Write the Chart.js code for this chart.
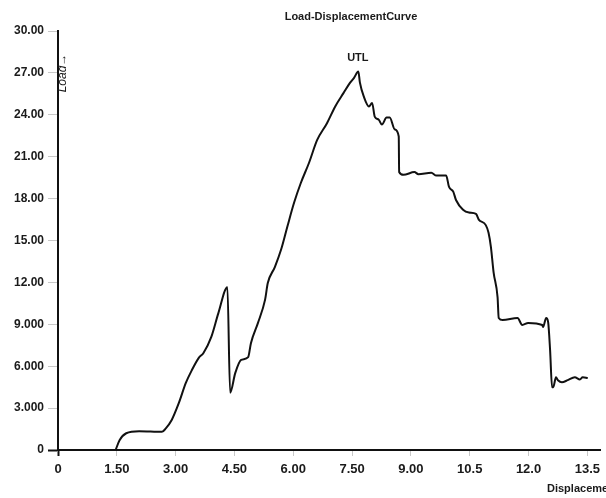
<!DOCTYPE html>
<html>
<head>
<meta charset="utf-8">
<script src="https://cdn.jsdelivr.net/npm/chart.js@4.4.1/dist/chart.umd.min.js"></script>
<style>
  html, body { margin: 0; padding: 0; background: #fff; }
  #wrap { width: 606px; height: 498px; }
</style>
</head>
<body>
<div id="wrap"><canvas id="loadChart" width="606" height="498"></canvas></div>
<script>
// values
const displacement = [
  1.47, 1.57, 1.74, 2.07, 2.65, 2.75, 2.90, 3.08, 3.26, 3.41, 3.59, 3.71, 3.91, 4.09, 4.32,
  4.39, 4.52, 4.67, 4.85, 4.92, 5.10, 5.28, 5.35, 5.53, 5.69, 5.85, 6.02, 6.19, 6.40, 6.61,
  6.86, 7.07, 7.28, 7.45, 7.55, 7.66, 7.70, 7.80, 7.93, 8.01, 8.08, 8.18, 8.26, 8.38, 8.46,
  8.59, 8.69, 8.70, 8.81, 9.09, 9.19, 9.52, 9.65, 9.90, 9.97, 10.08, 10.15, 10.33, 10.48, 10.66,
  10.73, 10.91, 10.98, 11.04, 11.11, 11.21, 11.24, 11.34, 11.72, 11.84, 11.99, 12.35, 12.37, 12.45, 12.50,
  12.55, 12.60, 12.63, 12.70, 12.75, 12.85, 13.00, 13.18, 13.31, 13.38, 13.51
];
const load = [
  0, 0.7, 1.2, 1.35, 1.3, 1.55, 2.15, 3.35, 4.8, 5.7, 6.6, 6.95, 8.1, 9.8, 11.65,
  4.1, 5.5, 6.45, 6.65, 7.65, 9.1, 10.75, 11.95, 13.1, 14.35, 16.0, 17.7, 19.1, 20.55, 22.2,
  23.4, 24.6, 25.55, 26.3, 26.65, 27.1, 26.3, 25.3, 24.6, 24.85, 23.85, 23.65, 23.3, 23.8, 23.8,
  22.95, 22.45, 19.9, 19.7, 19.9, 19.75, 19.85, 19.65, 19.65, 18.85, 18.5, 17.9, 17.2, 17.0, 16.9,
  16.5, 16.1, 15.55, 14.55, 12.7, 10.95, 9.45, 9.3, 9.45, 8.95, 9.1, 8.95, 8.8, 9.45, 9.15,
  7.15, 4.5, 4.5, 5.2, 5.0, 4.85, 5.0, 5.2, 5.05, 5.2, 5.15
];

const xTickValues = [0, 1.5, 3, 4.5, 6, 7.5, 9, 10.5, 12, 13.5];
const xTickLabels = ['0', '1.50', '3.00', '4.50', '6.00', '7.50', '9.00', '10.5', '12.0', '13.5'];
const yTickValues = [0, 3, 6, 9, 12, 15, 18, 21, 24, 27, 30];
const yTickLabels = ['0', '3.000', '6.000', '9.000', '12.00', '15.00', '18.00', '21.00', '24.00', '27.00', '30.00'];

const chartTitle = 'Load-DisplacementCurve';
const peakLabel = 'UTL';
const yName = 'Load\u2192';
const xName = 'Displacement';

const points = displacement.map((d, i) => ({ x: d, y: load[i] }));

// extra texts: title, UTL marker, axis names
const textPlugin = {
  id: 'texts',
  afterDraw(chart) {
    const c = chart.ctx;
    const xs = chart.scales.x;
    const ys = chart.scales.y;
    c.save();
    c.fillStyle = '#1a1a1a';

    c.font = 'bold 11px "Liberation Sans", Arial, sans-serif';
    c.textAlign = 'center';
    c.textBaseline = 'middle';
    c.fillText(chartTitle, 351, 17);

    // UTL above the highest point
    let top = 0;
    load.forEach((v, i) => { if (v > load[top]) top = i; });
    c.fillText(peakLabel, xs.getPixelForValue(displacement[top]) - 0.5, ys.getPixelForValue(load[top]) - 14);

    c.textAlign = 'left';
    c.fillText(xName, 547, 489);

    c.translate(63, 73);
    c.rotate(-Math.PI / 2);
    c.textAlign = 'center';
    c.font = 'italic 12px "Liberation Sans", Arial, sans-serif';
    c.fillText(yName, 0, 0);
    c.restore();
  }
};

new Chart(document.getElementById('loadChart'), {
  type: 'scatter',
  data: {
    datasets: [{
      label: 'Load',
      data: points,
      showLine: true,
      borderColor: '#111',
      borderWidth: 2,
      pointRadius: 0,
      cubicInterpolationMode: 'monotone',
      fill: false,
    }],
  },
  options: {
    responsive: false,
    animation: false,
    layout: { padding: { top: 31, right: 0, left: 0, bottom: 0 } },
    plugins: {
      legend: { display: false },
      title: { display: false },
      tooltip: { enabled: false },
    },
    scales: {
      x: {
        type: 'linear',
        min: 0,
        max: 13.83,
        afterBuildTicks: (s) => { s.ticks = xTickValues.map((v) => ({ value: v })); },
        afterFit: (s) => { s.height = 48; },
        border: { display: true, color: '#111', width: 2 },
        grid: {
          drawOnChartArea: false,
          drawTicks: true,
          tickLength: 6,
          tickColor: (ctx) => (ctx.tick && ctx.tick.value === 0 ? '#111' : '#c8c8c8'),
          tickWidth: (ctx) => (ctx.tick && ctx.tick.value === 0 ? 2 : 1),
        },
        ticks: {
          padding: 6,
          color: '#1a1a1a',
          maxRotation: 0,
          autoSkip: false,
          font: { family: '"Liberation Sans", Arial, sans-serif', size: 13, weight: 'bold' },
          callback: (v, i) => xTickLabels[i],
        },
      },
      y: {
        type: 'linear',
        min: 0,
        max: 30,
        afterBuildTicks: (s) => { s.ticks = yTickValues.map((v) => ({ value: v })); },
        afterFit: (s) => { s.width = 58; },
        border: { display: true, color: '#111', width: 2 },
        grid: {
          drawOnChartArea: false,
          drawTicks: true,
          tickLength: 10,
          tickColor: (ctx) => (ctx.tick && ctx.tick.value === 0 ? '#111' : '#c8c8c8'),
          tickWidth: (ctx) => (ctx.tick && ctx.tick.value === 0 ? 2 : 1),
        },
        ticks: {
          padding: 4,
          color: '#1a1a1a',
          autoSkip: false,
          font: { family: '"Liberation Sans", Arial, sans-serif', size: 12, weight: 'bold' },
          callback: (v, i) => yTickLabels[i],
        },
      },
    },
  },
  plugins: [textPlugin],
});
</script>
</body>
</html>
